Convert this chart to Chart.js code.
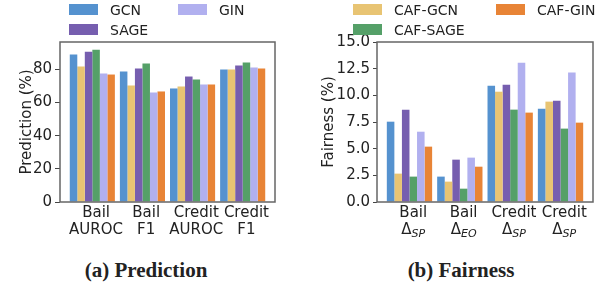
<!DOCTYPE html>
<html><head><meta charset="utf-8">
<script src="https://cdn.jsdelivr.net/npm/chart.js@4/dist/chart.umd.min.js"></script>
<style>
body{margin:0;width:615px;height:288px;background:#fff;position:relative;overflow:hidden;font-family:"DejaVu Sans",sans-serif;}
canvas{position:absolute;top:0;}
.lt{position:absolute;font-size:14px;line-height:14px;color:#222;white-space:nowrap;}
.sw{position:absolute;width:29px;height:11px;}
.cap{position:absolute;top:260px;font-family:"Liberation Serif",serif;font-weight:bold;font-size:21px;line-height:21px;color:#222;transform:translateX(-50%);white-space:nowrap;}
</style></head><body>
<canvas id="c1" width="300" height="250" style="left:0"></canvas>
<canvas id="c2" width="315" height="250" style="left:300px"></canvas>
<div id="legend"></div>
<div class="cap" style="left:146px">(a) Prediction</div>
<div class="cap" style="left:461px">(b) Fairness</div>
<script>
// ---- data ----
const predCategories = [["Bail","AUROC"],["Bail","F1"],["Credit","AUROC"],["Credit","F1"]];
const fairCategories = ["Bail","Bail","Credit","Credit"];
const fairSubscripts = ["SP","EO","SP","SP"];
const seriesNames = ["GCN","CAF-GCN","SAGE","CAF-SAGE","GIN","CAF-GIN"];

const gcnPred     = [88.8, 78.6, 68.4, 79.8];
const cafGcnPred  = [81.6, 70.2, 69.6, 79.8];
const sagePred    = [90.6, 80.4, 75.6, 82.2];
const cafSagePred = [91.8, 83.4, 73.8, 84.0];
const ginPred     = [77.4, 66.0, 70.8, 81.0];
const cafGinPred  = [76.8, 66.6, 70.8, 80.4];

const gcnFair     = [7.53, 2.38, 10.90, 8.75];
const cafGcnFair  = [2.66, 1.91, 10.34, 9.41];
const sageFair    = [8.66, 3.97, 11.00, 9.50];
const cafSageFair = [2.38, 1.25, 8.66, 6.88];
const ginFair     = [6.59, 4.16, 13.06, 12.13];
const cafGinFair  = [5.19, 3.31, 8.38, 7.44];

const predTickStep = 20;
const fairTickStep = 2.5;

// ---- styles ----
const colors = ["#5592cf","#e8c473","#765eaf","#55a068","#b1b0ef","#e88436"];
const FONT = '"DejaVu Sans", sans-serif';
const TXT = '#222';

// legend (html)
const legendLayout = [
  {i:0,x:69,y:4},{i:4,x:178,y:4},{i:2,x:69,y:24},
  {i:1,x:353,y:4},{i:5,x:496,y:4},{i:3,x:353,y:24}
];
const lg = document.getElementById('legend');
legendLayout.forEach(o=>{
  const s=document.createElement('div');s.className='sw';s.style.left=o.x+'px';s.style.top=o.y+'px';s.style.background=colors[o.i];lg.appendChild(s);
  const t=document.createElement('div');t.className='lt';t.style.left=(o.x+41)+'px';t.style.top=(o.y-1)+'px';t.textContent=seriesNames[o.i];lg.appendChild(t);
});

const barShift = -0.075;
function mk(vals){ return vals.map((v,i)=>({x:i+barShift,y:v})); }
function datasets(arrs){
  return arrs.map((a,k)=>({label:seriesNames[k],data:mk(a),backgroundColor:colors[k],borderWidth:0,categoryPercentage:0.9,barPercentage:1.0}));
}

const framePlugin = {
  id:'frame',
  afterDatasetsDraw(chart){
    const {ctx,chartArea:a}=chart;
    ctx.save();ctx.strokeStyle='#666';ctx.lineWidth=1.5;
    ctx.strokeRect(a.left,a.top,a.right-a.left,a.bottom-a.top);ctx.restore();
  }
};

function baseOptions(padLeft,padRight,yWidth,yMax,step,title,yfmt,xcb,tickLen){
  return {
    responsive:false,animation:false,devicePixelRatio:1,
    layout:{padding:{left:padLeft,right:padRight,top:42,bottom:0}},
    plugins:{legend:{display:false},tooltip:{enabled:false}},
    scales:{
      x:{type:'linear',min:-0.72,max:3.57,offset:false,
         grid:{display:false,drawTicks:false,offset:false},border:{display:false},
         ticks:{stepSize:1,includeBounds:false,autoSkip:false,maxRotation:0,padding:3,color:TXT,
                font:{family:FONT,size:15,lineHeight:1.1},callback:xcb},
         afterFit(s){s.height=48;}},
      y:{min:0,max:yMax,
         grid:{display:true,drawOnChartArea:false,drawTicks:true,tickLength:tickLen,color:'#444'},border:{display:false},
         ticks:{stepSize:step,includeBounds:false,padding:3,color:TXT,font:{family:FONT,size:15},callback:yfmt},
         title:{display:true,text:title,color:TXT,font:{family:FONT,size:15}},
         afterFit(s){s.width=yWidth;}}
    }
  };
}

new Chart(document.getElementById('c1'),{
  type:'bar',
  data:{datasets:datasets([gcnPred,cafGcnPred,sagePred,cafSagePred,ginPred,cafGinPred])},
  options:baseOptions(14,25,46,96.4,predTickStep,'Prediction (%)',v=>String(v),
    v=>Number.isInteger(v)&&predCategories[v]?predCategories[v]:'',5),
  plugins:[framePlugin]
});

const deltaPlugin = {
  id:'delta',
  afterDraw(chart){
    const {ctx,chartArea:a}=chart;const xs=chart.scales.x;
    const y=a.bottom+3+16.5*1.5;
    ctx.save();ctx.fillStyle=TXT;ctx.textBaseline='middle';ctx.textAlign='left';
    fairSubscripts.forEach((sub,i)=>{
      const px=xs.getPixelForValue(i);
      ctx.font='15px '+FONT;const wd=ctx.measureText('\u0394').width;
      ctx.font='italic 11px '+FONT;const ws=ctx.measureText(sub).width;
      const x0=px-(wd+ws)/2;
      ctx.font='15px '+FONT;ctx.fillText('\u0394',x0,y);
      ctx.font='italic 11px '+FONT;ctx.fillText(sub,x0+wd,y+4);
    });
    ctx.restore();
  }
};

new Chart(document.getElementById('c2'),{
  type:'bar',
  data:{datasets:datasets([gcnFair,cafGcnFair,sageFair,cafSageFair,ginFair,cafGinFair])},
  options:baseOptions(16,22,61,15,fairTickStep,'Fairness (%)',v=>v.toFixed(1),
    v=>Number.isInteger(v)&&fairCategories[v]?[fairCategories[v],' ']:'',4),
  plugins:[framePlugin,deltaPlugin]
});
</script>
</body></html>
